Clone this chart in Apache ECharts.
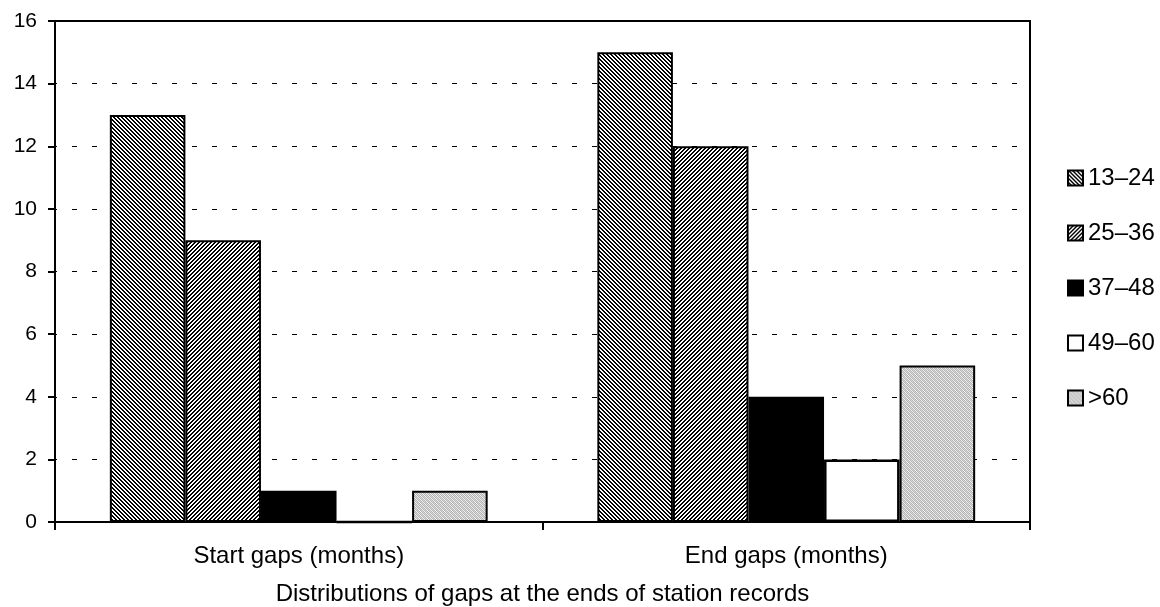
<!DOCTYPE html>
<html>
<head>
<meta charset="utf-8">
<script src="https://cdn.jsdelivr.net/npm/echarts@6/dist/echarts.min.js"></script>
<style>
html,body{margin:0;padding:0;background:#fff;}
#c{width:1160px;height:607px;}
</style>
</head>
<body>
<div id="c"></div>
<script>
const categories = ['Start gaps (months)', 'End gaps (months)'];
const seriesNames = ['13\u201324', '25\u201336', '37\u201348', '49\u201360', '>60'];
const values13_24 = [13, 15];
const values25_36 = [9, 12];
const values37_48 = [1, 4];
const values49_60 = [0, 2];
const valuesOver60 = [1, 5];
const yTicks = [0, 2, 4, 6, 8, 10, 12, 14, 16];
const xTitle = 'Distributions of gaps at the ends of station records';

function makeTile(size, fn) {
  const cv = document.createElement('canvas');
  cv.width = size; cv.height = size;
  const ctx = cv.getContext('2d');
  for (let y = 0; y < size; y++) {
    for (let x = 0; x < size; x++) {
      ctx.fillStyle = fn(x, y);
      ctx.fillRect(x, y, 1, 1);
    }
  }
  return cv;
}
const backslash = makeTile(4, (x, y) => (((x - y) % 4 + 4) % 4 < 2) ? '#000' : '#fff');
const slash = makeTile(4, (x, y) => (((x + y) % 4) < 2) ? '#000' : '#fff');
const grayDots = makeTile(4, (x, y) => ((x + y) % 2 === 0) ? '#b4b4b4' : (((x * 3 + y) % 4 === 1) ? '#d8d8d8' : '#f2f2f2'));

const fills = [
  { image: backslash, repeat: 'repeat' },
  { image: slash, repeat: 'repeat' },
  '#000',
  '#fff',
  { image: grayDots, repeat: 'repeat' }
];
const dataSets = [values13_24, values25_36, values37_48, values49_60, valuesOver60];

const FONT = 'Liberation Sans, Arial, Helvetica, sans-serif';
const FS = 24;
const FSY = 21;

const chart = echarts.init(document.getElementById('c'), null, { renderer: 'canvas' });
chart.setOption({
  animation: false,
  backgroundColor: '#fff',
  grid: {
    left: 55, right: 130, top: 21, bottom: 85,
    outerBoundsMode: 'none',
    containLabel: false,
    show: true, borderColor: '#000', borderWidth: 2, backgroundColor: 'transparent'
  },
  legend: {
    orient: 'vertical',
    left: 1062, top: 161,
    itemWidth: 15, itemHeight: 15, itemGap: 31,
    icon: 'rect',
    textStyle: { fontFamily: FONT, fontSize: FS, color: '#000' },
    data: seriesNames
  },
  xAxis: {
    type: 'category',
    data: categories,
    boundaryGap: true,
    axisLine: { lineStyle: { color: '#000', width: 2 } },
    axisTick: { show: true, length: 8, lineStyle: { color: '#000', width: 2 } },
    axisLabel: { fontFamily: FONT, fontSize: FS, color: '#000', margin: 22 },
    name: xTitle,
    nameLocation: 'middle',
    nameGap: 60,
    nameTextStyle: { fontFamily: FONT, fontSize: FS, color: '#000' }
  },
  yAxis: {
    type: 'value',
    min: yTicks[0], max: yTicks[yTicks.length - 1], interval: 2,
    axisLine: { show: true, lineStyle: { color: '#000', width: 2 } },
    axisTick: { show: true, inside: false, length: 7, lineStyle: { color: '#000', width: 2 } },
    axisLabel: { fontFamily: FONT, fontSize: FSY, color: '#000', margin: 18 },
    splitLine: { show: true, lineStyle: { color: '#000', width: 1, type: [5, 15], dashOffset: -17 } }
  },
  series: seriesNames.map((n, i) => ({
    name: n,
    type: 'bar',
    data: dataSets[i],
    barGap: '0%',
    barCategoryGap: '22.5%',
    itemStyle: { color: fills[i], borderColor: '#000', borderWidth: i === 3 ? 2.5 : 2 },
    z: 3
  }))
});
</script>
</body>
</html>
